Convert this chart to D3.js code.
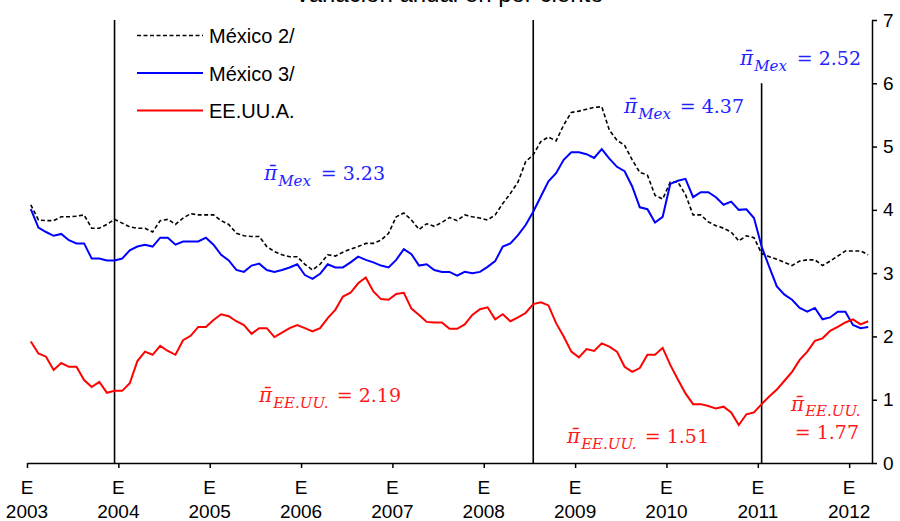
<!DOCTYPE html>
<html><head><meta charset="utf-8">
<script src="https://cdn.jsdelivr.net/npm/d3@7"></script>
<style>body{margin:0;background:#fff}svg{display:block}</style>
</head><body>
<svg id="c" width="900" height="521"></svg>
<script>
// ---- data ----
const title = "Variación anual en por ciento";
const yearLabels = ["2003","2004","2005","2006","2007","2008","2009","2010","2011","2012"];
const monthLabel = "E";
const yTicks = [0,1,2,3,4,5,6,7];
const seriesNames = ["México 2/","México 3/","EE.UU.A."];
// monthly, Jan 2003 .. Mar 2012
const mexico2 = [4.08,3.84,3.83,3.83,3.89,3.89,3.90,3.92,3.71,3.71,3.77,3.85,3.79,3.73,3.71,3.71,3.65,3.83,3.85,3.77,3.87,3.94,3.92,3.92,3.92,3.83,3.77,3.63,3.59,3.58,3.58,3.42,3.34,3.29,3.26,3.26,3.14,3.05,3.14,
  3.29,3.27,3.33,3.38,3.42,3.47,3.47,3.52,3.63,3.89,3.95,3.84,3.69,3.78,3.74,3.80,3.88,3.83,3.92,3.89,3.87,3.84,3.92,4.10,4.26,4.44,4.76,4.87,5.08,5.15,5.09,
  5.34,5.54,5.56,5.59,5.62,5.63,5.26,5.10,5.02,4.79,4.59,4.55,4.23,4.17,4.44,4.44,4.24,3.92,3.92,3.81,3.75,3.71,3.65,3.51,3.59,3.56,3.31,3.26,3.22,3.17,3.12,3.19,3.21,3.21,3.12,3.19,3.27,3.35,3.35,3.35,3.29];
const mexico3 = [4.01,3.72,3.65,3.59,3.62,3.52,3.47,3.47,3.23,3.23,3.20,3.20,3.23,3.36,3.42,3.45,3.42,3.56,3.56,3.45,3.50,3.50,3.50,3.56,3.45,3.29,3.20,3.05,3.02,3.12,3.15,3.05,3.02,3.05,3.09,3.14,2.97,2.91,2.99,
  3.14,3.09,3.09,3.17,3.26,3.21,3.17,3.12,3.09,3.21,3.38,3.30,3.12,3.14,3.05,3.02,3.02,2.96,3.02,3.00,3.02,3.10,3.19,3.42,3.47,3.60,3.76,3.97,4.21,4.45,4.58,4.79,4.91,
  4.91,4.88,4.82,4.96,4.81,4.68,4.61,4.37,4.04,4.01,3.80,3.89,4.41,4.46,4.49,4.20,4.28,4.28,4.20,4.08,4.13,4.00,4.01,3.87,3.42,3.10,2.79,2.66,2.58,2.45,2.39,2.45,2.27,2.30,2.39,2.39,2.18,2.13,2.15];
const eeuu = [1.92,1.73,1.68,1.47,1.58,1.52,1.52,1.31,1.20,1.28,1.11,1.14,1.14,1.26,1.61,1.76,1.71,1.85,1.77,1.71,1.94,2.01,2.15,2.15,2.26,2.35,2.32,2.24,2.18,2.04,2.13,2.13,1.99,2.06,2.13,2.18,2.13,2.08,2.13,
  2.29,2.42,2.63,2.69,2.84,2.93,2.71,2.59,2.58,2.67,2.69,2.44,2.34,2.23,2.22,2.22,
  2.12,2.12,2.19,2.34,2.43,2.46,2.27,2.35,2.24,2.30,2.37,2.51,2.54,2.49,2.21,2.00,1.76,1.67,1.80,1.77,1.89,1.84,1.76,1.52,1.44,1.50,1.71,1.71,1.82,1.55,1.32,1.10,0.93,0.93,0.90,0.86,0.89,0.80,0.60,0.77,0.80,0.93,1.05,1.16,1.30,1.44,1.63,1.76,1.93,1.97,2.09,2.15,2.22,2.27,2.19,2.24];
const breakMonths = [11, 66, 96];
const breakTops = [7, 7, 6];
const mexMeans = ["3.23","4.37","2.52"];
const usMeans = ["2.19","1.51","1.77"];

// ---- chart ----
const svg = d3.select("#c");
const x = d3.scaleLinear().domain([-0.5, 110.5]).range([27, 872]);
const y = d3.scaleLinear().domain([0, 7]).range([463, 20]);
const sans = "Arial, 'Liberation Sans', sans-serif";
const serif = "'DejaVu Serif', serif";

svg.append("text").attr("x", 449).attr("y", 2).attr("text-anchor","middle")
  .style("font-family", sans).style("font-size","24px").attr("fill","#000").text(title);

// bottom axis
const xa = svg.append("g").attr("transform","translate(0,463)")
  .call(d3.axisBottom(x).tickValues(yearLabels.map((d,i)=>i*12-0.5)).tickSize(5).tickSizeOuter(0).tickFormat(""));
xa.selectAll("path,line").attr("stroke","#000").attr("stroke-width",1.5);
yearLabels.forEach((yr,i)=>{
  const t = svg.append("text").attr("text-anchor","middle").style("font-family",sans).style("font-size","19px").attr("fill","#000");
  t.append("tspan").attr("x", x(i*12-0.5)).attr("y", 494).text(monthLabel);
  t.append("tspan").attr("x", x(i*12-0.5)).attr("y", 518).text(yr);
});

// right axis
const ya = svg.append("g").attr("transform","translate(872,0)")
  .call(d3.axisRight(y).tickValues(yTicks).tickSize(5).tickSizeOuter(0).tickPadding(6).tickFormat(d3.format("d")));
ya.selectAll("path,line").attr("stroke","#000").attr("stroke-width",1.5);
ya.selectAll("text").style("font-family",sans).style("font-size","19px").attr("fill","#000");

// vertical break lines
svg.append("g").selectAll("line").data(breakMonths).join("line")
  .attr("x1", d=>x(d)).attr("x2", d=>x(d))
  .attr("y1", (d,i)=>y(breakTops[i])).attr("y2", y(0))
  .attr("stroke","#000").attr("stroke-width",1.6);

// series
const line = d3.line().x((d,i)=>x(i)).y(d=>y(d));
svg.append("path").datum(mexico2).attr("d",line).attr("fill","none").attr("stroke","#000")
  .attr("stroke-width",1.6).attr("stroke-dasharray","4,2.5");
svg.append("path").datum(mexico3).attr("d",line).attr("fill","none").attr("stroke","#0000ff").attr("stroke-width",2);
svg.append("path").datum(eeuu).attr("d",line).attr("fill","none").attr("stroke","#ff0000").attr("stroke-width",2);

// legend
const lg = svg.append("g");
const legendStyles = [{c:"#000",dash:"4,2.5",w:1.6},{c:"#0000ff",dash:null,w:2},{c:"#ff0000",dash:null,w:2}];
seriesNames.forEach((n,i)=>{
  const cy = 35.5 + i*37.5;
  lg.append("line").attr("x1",137).attr("x2",203).attr("y1",cy).attr("y2",cy)
    .attr("stroke",legendStyles[i].c).attr("stroke-width",legendStyles[i].w)
    .attr("stroke-dasharray",legendStyles[i].dash);
  lg.append("text").attr("x",209).attr("y",cy+7.5).style("font-family",sans).style("font-size","20px").attr("fill","#000").text(n);
});

// annotations
function annot(color, xs, base, sub, val, xe, vbase, subDy){
  const t = svg.append("text").attr("x",xs).attr("y",base).attr("fill",color)
    .style("font-family",serif).style("font-size","20px");
  t.append("tspan").style("font-style","italic").text("\u03C0\u0304");
  t.append("tspan").style("font-style","italic").style("font-size","15px").attr("dx",1).attr("dy",subDy).text(sub);
  svg.append("text").attr("x",xe).attr("y",vbase).attr("text-anchor","end").attr("fill",color)
    .style("font-family",serif).style("font-size","19px").text("= " + val);
}
const blueT = "#2222ff", redT = "#ff1a1a";
annot(blueT, 264, 180, "Mex", mexMeans[0], 385, 180, 6);
annot(blueT, 624, 113, "Mex", mexMeans[1], 744, 113, 6);
annot(blueT, 740, 65, "Mex", mexMeans[2], 861, 65, 6);
annot(redT, 259, 402, "EE.UU.", usMeans[0], 401, 402, 6);
annot(redT, 567, 443, "EE.UU.", usMeans[1], 709, 443, 6);
annot(redT, 791, 411, "EE.UU.", usMeans[2], 859, 439, 5);
</script>
</body></html>
